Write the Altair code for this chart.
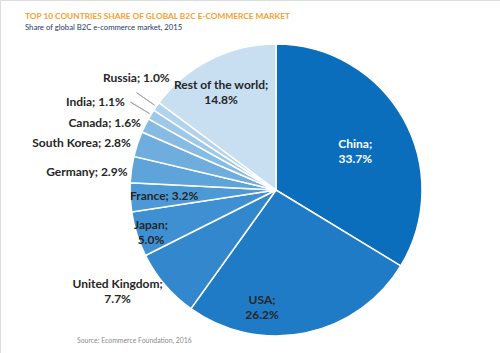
import altair as alt
import pandas as pd

countries = ["China", "USA", "United Kingdom", "Japan", "France", "Germany",
             "South Korea", "Canada", "India", "Russia", "Rest of the world"]
shares = [33.7, 26.2, 7.7, 5.0, 3.2, 2.9, 2.8, 1.6, 1.1, 1.0, 14.8]
colors = ["#0A6EBD", "#1F7BC6", "#3287CD", "#3F90D2", "#4C99D6", "#5EA3DA",
          "#6FADDE", "#86BBE4", "#9CC8E9", "#B1D3EE", "#C8DEF1"]
two_line = [True, True, True, True, False, False, False, False, False, False, True]
# label placement: radius (px) and angular nudge (degrees) from the slice middle
label_radius = [88, 118, 188, 132, 112, 190, 200, 184, 201, 179, 112]
label_nudge = [3.6, 18.3, 7.9, -1.0, 0.0, -2.7, -4.8, -4.9, -5.1, 3.8, -2.7]
label_color = ["#FFFFFF"] + ["#262626"] * 10
leader = [False, False, False, False, False, False, False, False, True, True, False]

title = "TOP 10 COUNTRIES SHARE OF GLOBAL B2C E-COMMERCE MARKET"
subtitle = "Share of global B2C e-commerce market, 2015"
source = "Source: Ecommerce Foundation, 2016"

labels = [f"{c};\n{v:.1f}%" if t else f"{c}; {v:.1f}%"
          for c, v, t in zip(countries, shares, two_line)]

df = pd.DataFrame({
    "idx": list(range(len(countries))),
    "country": countries,
    "share": shares,
    "label": labels,
    "lr": label_radius,
    "ln": label_nudge,
    "lc": label_color,
    "two": two_line,
    "leader": leader,
})

CX, CY, R = 276, 190, 146
FONT = "Lato"

theta_scale = alt.Scale(domain=[0, 100], range=[0, 6.283185307179586])

base = alt.Chart(df).transform_window(
    cum="sum(share)", sort=[alt.SortField("idx")], frame=[None, 0]
).transform_calculate(
    start="datum.cum - datum.share",
    mid="datum.cum - datum.share / 2",
    lab="datum.cum - datum.share / 2 + datum.ln * 100 / 360",
)

arcs = base.mark_arc(radius=R, stroke="white", strokeWidth=1.5).encode(
    theta=alt.Theta("start:Q", stack=None, scale=theta_scale),
    theta2="cum:Q",
    color=alt.Color("country:N", scale=alt.Scale(domain=countries, range=colors), legend=None),
    x=alt.value(CX),
    y=alt.value(CY),
)

leaders = base.transform_filter("datum.leader").mark_arc(
    radius=R + 24, radius2=R + 2, stroke="#A6A6A6", strokeWidth=1, fillOpacity=0
).encode(
    theta=alt.Theta("mid:Q", stack=None, scale=theta_scale),
    theta2="mid:Q",
    x=alt.value(CX),
    y=alt.value(CY),
)

text_enc = dict(
    theta=alt.Theta("lab:Q", stack=None, scale=theta_scale),
    radius=alt.Radius("lr:Q", scale=None),
    text="label:N",
    color=alt.Color("lc:N", scale=None),
    x=alt.value(CX),
    y=alt.value(CY),
)
text_style = dict(font=FONT, fontSize=12, fontWeight="bold", lineBreak="\n",
                  align="center", baseline="middle", lineHeight=15)

texts1 = base.transform_filter("!datum.two").mark_text(**text_style).encode(**text_enc)
texts2 = base.transform_filter("datum.two").mark_text(dy=-7.5, **text_style).encode(**text_enc)

t1 = alt.Chart(pd.DataFrame({"t": [title]})).mark_text(
    font=FONT, fontSize=8.3, fontWeight="bold", color="#F5A030", align="left", baseline="middle"
).encode(text="t:N", x=alt.value(25), y=alt.value(17))
t2 = alt.Chart(pd.DataFrame({"t": [subtitle]})).mark_text(
    font=FONT, fontSize=7.7, color="#1F3864", align="left", baseline="middle"
).encode(text="t:N", x=alt.value(25), y=alt.value(28))
t3 = alt.Chart(pd.DataFrame({"t": [source]})).mark_text(
    font=FONT, fontSize=6.9, color="#8C8C8C", align="left", baseline="middle"
).encode(text="t:N", x=alt.value(77), y=alt.value(341))

chart = alt.layer(arcs, leaders, texts1, texts2, t1, t2, t3).properties(
    width=500, height=353,
    autosize=alt.AutoSizeParams(type="none"),
    padding=0,
).configure_view(stroke=None).configure(background="white")

chart.save("out.html", embed_options={"renderer": "svg", "actions": False})
